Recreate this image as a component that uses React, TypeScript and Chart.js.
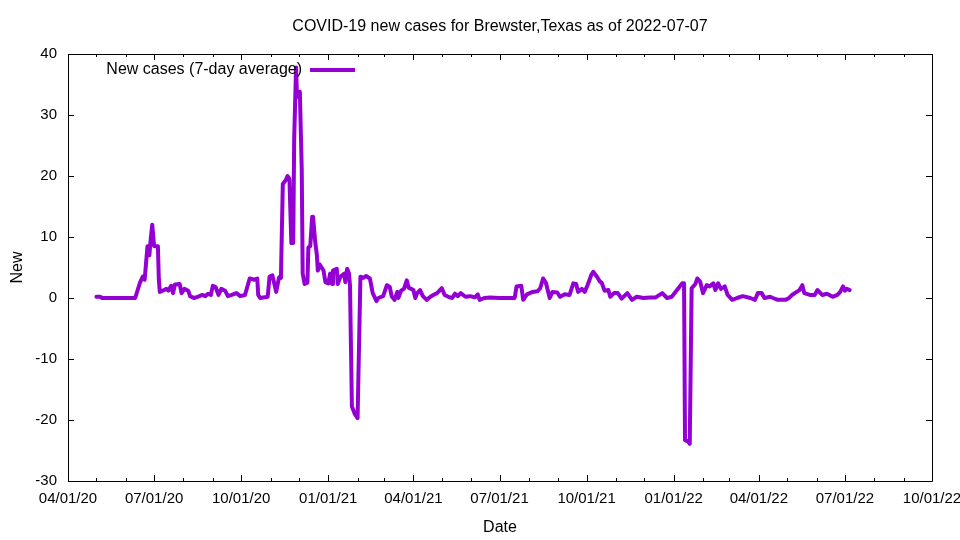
import React, { useEffect, useRef } from "react";
import { Chart, registerables } from "chart.js";

Chart.register(...registerables);

const chartTitle = "COVID-19 new cases for Brewster,Texas as of 2022-07-07";
const seriesLabel = "New cases (7-day average)";
const xAxisLabel = "Date";
const yAxisLabel = "New";
const xStart = "2020-04-01";
const xEnd = "2022-10-01";
const yMin = -30;
const yMax = 40;
const yStep = 10;

const dates2020 = [
  "2020-05-01","2020-05-05","2020-05-07","2020-06-11","2020-06-16","2020-06-19","2020-06-21","2020-06-24","2020-06-26","2020-06-27",
  "2020-06-29","2020-07-01","2020-07-05","2020-07-06","2020-07-07","2020-07-10","2020-07-14","2020-07-16","2020-07-19","2020-07-21",
  "2020-07-23","2020-07-28","2020-07-30","2020-08-02","2020-08-06","2020-08-08","2020-08-12","2020-08-16","2020-08-21","2020-08-24",
  "2020-08-27","2020-08-30","2020-09-01","2020-09-04","2020-09-07","2020-09-10","2020-09-14","2020-09-17","2020-09-21","2020-09-26",
  "2020-09-30","2020-10-05","2020-10-10","2020-10-15","2020-10-18","2020-10-19","2020-10-21","2020-10-29","2020-10-31","2020-11-03",
  "2020-11-07","2020-11-10","2020-11-12","2020-11-14","2020-11-17","2020-11-19","2020-11-21","2020-11-23","2020-11-25","2020-11-26",
  "2020-11-28","2020-11-29","2020-12-02","2020-12-04","2020-12-05","2020-12-07","2020-12-10","2020-12-11","2020-12-13","2020-12-15",
  "2020-12-16","2020-12-18","2020-12-20","2020-12-21","2020-12-23","2020-12-27","2020-12-29",
];
const values2020 = [
  0.2, 0.2, 0, 0, 2.5, 3.5, 3, 8.5, 7, 9,
  12, 8.5, 8.5, 3, 1, 1.2, 1.5, 1.2, 2, 0.8,
  2.2, 2.3, 0.8, 1.5, 1.2, 0.3, 0, 0.2, 0.5, 0.3,
  0.7, 0.5, 2, 1.8, 0.5, 1.5, 1.2, 0.3, 0.5, 0.8,
  0.3, 0.5, 3.2, 3, 3.2, 0.5, 0, 0.2, 3.5, 3.7,
  1, 3.4, 3.3, 18.7, 19.3, 20, 19.5, 9, 9, 26,
  37.8, 33, 33.8, 21, 4, 2.3, 2.5, 8.3, 8.5, 13.3,
  13.3, 9.5, 7, 4.5, 5.5, 4.5, 2.6,
];

const dates2021 = [
  "2021-01-01","2021-01-03","2021-01-05","2021-01-06","2021-01-10","2021-01-11","2021-01-14","2021-01-18","2021-01-19","2021-01-21",
  "2021-01-23","2021-01-24","2021-01-26","2021-01-29","2021-02-01","2021-02-04","2021-02-07","2021-02-10","2021-02-14","2021-02-17",
  "2021-02-21","2021-02-23","2021-02-28","2021-03-04","2021-03-07","2021-03-09","2021-03-12","2021-03-15","2021-03-16","2021-03-19",
  "2021-03-22","2021-03-25","2021-03-27","2021-04-01","2021-04-03","2021-04-05","2021-04-08","2021-04-11","2021-04-15","2021-04-19",
  "2021-04-22","2021-04-26","2021-05-01","2021-05-04","2021-05-08","2021-05-12","2021-05-15","2021-05-18","2021-05-21","2021-05-26",
  "2021-05-31","2021-06-05","2021-06-08","2021-06-10","2021-06-15","2021-06-21","2021-07-01","2021-07-12","2021-07-17","2021-07-19",
  "2021-07-24","2021-07-26","2021-07-30","2021-08-05","2021-08-10","2021-08-13","2021-08-16","2021-08-19","2021-08-23","2021-08-26",
  "2021-08-31","2021-09-03","2021-09-08","2021-09-13","2021-09-17","2021-09-20","2021-09-22","2021-09-26","2021-09-29","2021-10-02",
  "2021-10-06","2021-10-08","2021-10-12","2021-10-15","2021-10-17","2021-10-20","2021-10-24","2021-10-26","2021-10-30","2021-11-03",
  "2021-11-07","2021-11-13","2021-11-18","2021-11-23","2021-11-30","2021-12-07","2021-12-13","2021-12-20","2021-12-25","2021-12-30",
];
const values2021 = [
  2.4, 4, 2.3, 4.5, 4.8, 2.3, 3.5, 4, 2.6, 4.8,
  4, 2, -17.8, -19, -19.7, 3.5, 3.3, 3.6, 3.2, 0.8,
  -0.5, 0, 0.3, 2.1, 1.8, 0.3, -0.3, 1, 0, 1.2,
  1.5, 2.9, 1.7, 1.3, 0, 0.8, 1.3, 0.3, -0.3, 0.2,
  0.5, 0.8, 1.6, 0.5, 0.2, 0, 0.7, 0.3, 0.8, 0.2,
  0.3, 0.1, 0.6, -0.3, 0, 0.1, 0, 0, 0, 1.9,
  2, -0.3, 0.6, 1, 1.1, 1.6, 3.2, 2.5, 0, 1,
  0.9, 0.2, 0.6, 0.5, 2.4, 2.3, 1, 1.5, 1, 2.1,
  3.8, 4.3, 3.5, 2.7, 2.5, 1.2, 1.3, 0.2, 0.8, 0.8,
  -0.1, 0.8, -0.3, 0.2, 0, 0.1, 0.1, 0.8, 0, 0.2,
];

const dates2022 = [
  "2022-01-06","2022-01-10","2022-01-12","2022-01-13","2022-01-16","2022-01-18","2022-01-20","2022-01-24","2022-01-26","2022-01-29",
  "2022-02-01","2022-02-05","2022-02-08","2022-02-12","2022-02-14","2022-02-17","2022-02-20","2022-02-24","2022-02-27","2022-03-04",
  "2022-03-09","2022-03-15","2022-03-23","2022-03-28","2022-03-31","2022-04-04","2022-04-07","2022-04-13","2022-04-16","2022-04-21",
  "2022-04-29","2022-05-03","2022-05-06","2022-05-11","2022-05-14","2022-05-17","2022-05-19","2022-05-25","2022-05-30","2022-06-02",
  "2022-06-07","2022-06-12","2022-06-18","2022-06-23","2022-06-26","2022-06-29","2022-07-01","2022-07-03","2022-07-06",
];
const values2022 = [
  1.6, 2.4, 2.4, -23.3, -23.5, -23.9, 1.6, 2.3, 3.2, 2.7,
  0.8, 2.1, 1.9, 2.4, 1.3, 2.4, 1.5, 1.9, 0.5, -0.3,
  0, 0.3, 0, -0.3, 0.8, 0.8, 0, 0.2, 0, -0.3,
  -0.3, 0, 0.5, 1, 1.3, 2.1, 0.8, 0.5, 0.5, 1.3,
  0.5, 0.7, 0.2, 0.5, 1, 1.9, 1.2, 1.5, 1.3,
];

const lineColor = "#9400d3";
const fontFamily = "'Liberation Sans', Arial, sans-serif";
const tickFontSize = 15;
const textFontSize = 16;

const DAY = 86400000;
const parseDay = (s: string) => Date.parse(s + "T00:00:00Z");
const toDay = (s: string) => (parseDay(s) - parseDay(xStart)) / DAY;

function buildMonthTicks() {
  const out: { value: number; major: boolean; label: string }[] = [];
  const start = new Date(parseDay(xStart));
  const end = parseDay(xEnd);
  for (let m = 0; ; m++) {
    const t = Date.UTC(start.getUTCFullYear(), start.getUTCMonth() + m, 1);
    if (t > end) break;
    const d = new Date(t);
    const mm = String(d.getUTCMonth() + 1).padStart(2, "0");
    const dd = String(d.getUTCDate()).padStart(2, "0");
    const yy = String(d.getUTCFullYear() % 100).padStart(2, "0");
    out.push({ value: (t - parseDay(xStart)) / DAY, major: m % 3 === 0, label: `${mm}/${dd}/${yy}` });
  }
  return out;
}

export default function App() {
  const ref = useRef<HTMLCanvasElement | null>(null);

  useEffect(() => {
    if (!ref.current) return;
    const monthTicks = buildMonthTicks();
    const allDates = [...dates2020, ...dates2021, ...dates2022];
    const allValues = [...values2020, ...values2021, ...values2022];
    const points = allDates.map((d, i) => ({ x: toDay(d), y: allValues[i] }));

    const framePlugin = {
      id: "gnuFrame",
      afterDraw(chart: any) {
        const { ctx, chartArea: a } = chart;
        const xs = chart.scales.x;
        const ys = chart.scales.y;
        ctx.save();
        ctx.strokeStyle = "#000";
        ctx.lineWidth = 1;
        ctx.beginPath();
        ctx.rect(Math.round(a.left) + 0.5, Math.round(a.top) + 0.5, Math.round(a.right - a.left), Math.round(a.bottom - a.top));
        ctx.stroke();
        ctx.beginPath();
        monthTicks.forEach((t) => {
          const px = Math.round(xs.getPixelForValue(t.value)) + 0.5;
          const len = t.major ? 6 : 3;
          ctx.moveTo(px, a.bottom);
          ctx.lineTo(px, a.bottom - len);
          ctx.moveTo(px, a.top);
          ctx.lineTo(px, a.top + len);
        });
        for (let v = yMin; v <= yMax; v += yStep) {
          const py = Math.round(ys.getPixelForValue(v)) + 0.5;
          ctx.moveTo(a.left, py);
          ctx.lineTo(a.left + 6, py);
          ctx.moveTo(a.right, py);
          ctx.lineTo(a.right - 6, py);
        }
        ctx.stroke();

        // title
        ctx.fillStyle = "#000";
        ctx.font = `${textFontSize}px ${fontFamily}`;
        ctx.textAlign = "center";
        ctx.textBaseline = "middle";
        ctx.fillText(chartTitle, (a.left + a.right) / 2, 27);

        // key
        const ds = chart.data.datasets[0];
        ctx.textAlign = "right";
        ctx.fillText(ds.label, a.left + 234, a.top + 16);
        ctx.strokeStyle = ds.borderColor;
        ctx.lineWidth = 4;
        ctx.beginPath();
        ctx.moveTo(a.left + 242, a.top + 16);
        ctx.lineTo(a.left + 287, a.top + 16);
        ctx.stroke();
        ctx.restore();
      },
    };

    const chart = new Chart(ref.current, {
      type: "line",
      data: {
        datasets: [
          {
            label: seriesLabel,
            data: points,
            borderColor: lineColor,
            backgroundColor: lineColor,
            borderWidth: 4,
            pointRadius: 0,
            tension: 0,
            fill: false,
            borderJoinStyle: "round",
            borderCapStyle: "round",
          },
        ],
      },
      options: {
        animation: false,
        responsive: false,
        maintainAspectRatio: false,
        layout: { padding: { left: 0, right: 28, top: 54, bottom: 0 } },
        plugins: {
          legend: { display: false },
          title: { display: false },
          tooltip: { enabled: false },
        },
        scales: {
          x: {
            type: "linear",
            min: toDay(xStart),
            max: toDay(xEnd),
            afterBuildTicks: (s: any) => {
              s.ticks = monthTicks.map((t) => ({ value: t.value }));
            },
            afterFit: (s: any) => {
              s.height = 59;
              s.paddingLeft = 0;
              s.paddingRight = 0;
            },
            ticks: {
              autoSkip: false,
              maxRotation: 0,
              minRotation: 0,
              padding: 9,
              color: "#000",
              font: { family: fontFamily, size: tickFontSize },
              callback: (v: any) => {
                const t = monthTicks.find((m) => Math.abs(m.value - v) < 0.01);
                return t && t.major ? t.label : "";
              },
            },
            grid: { display: false, drawTicks: false },
            border: { display: false },
            title: {
              display: true,
              text: xAxisLabel,
              color: "#000",
              font: { family: fontFamily, size: textFontSize },
              padding: { top: 0, bottom: 3 },
            },
          },
          y: {
            type: "linear",
            min: yMin,
            max: yMax,
            afterFit: (s: any) => {
              s.width = 68;
              s.paddingTop = 0;
              s.paddingBottom = 0;
            },
            ticks: {
              stepSize: yStep,
              padding: 11,
              color: "#000",
              font: { family: fontFamily, size: tickFontSize },
            },
            grid: { display: false, drawTicks: false },
            border: { display: false },
            title: {
              display: true,
              text: yAxisLabel,
              color: "#000",
              font: { family: fontFamily, size: textFontSize },
              padding: { top: 8, bottom: 0 },
            },
          },
        },
      },
      plugins: [framePlugin],
    } as any);

    return () => chart.destroy();
  }, []);

  return (
    <div style={{ position: "fixed", left: 0, top: 0, width: 960, height: 540, background: "#fff" }}>
      <canvas ref={ref} width={960} height={540} style={{ width: 960, height: 540, display: "block" }} />
    </div>
  );
}
